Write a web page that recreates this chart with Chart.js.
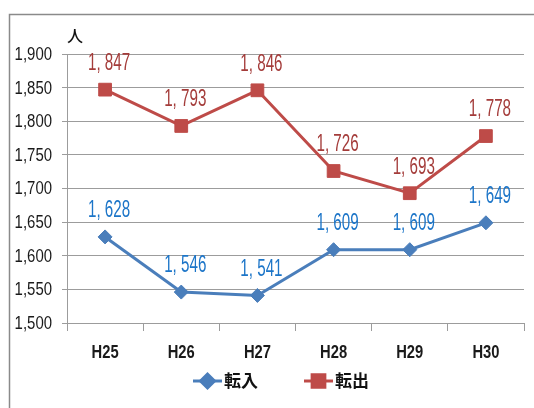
<!DOCTYPE html>
<html>
<head>
<meta charset="utf-8">
<script src="https://cdn.jsdelivr.net/npm/chart.js@4.4.1/dist/chart.umd.min.js"></script>
<style>
  html, body { margin: 0; padding: 0; background: #ffffff; }
  #wrap { width: 534px; height: 408px; position: relative; }
</style>
</head>
<body>
<div id="wrap"><canvas id="c" width="534" height="408"></canvas></div>
<script>
// Fiscal years (Heisei era)
const years = ['H25', 'H26', 'H27', 'H28', 'H29', 'H30'];
// Persons moving in / moving out
const tennyu = [1628, 1546, 1541, 1609, 1609, 1649];
const tenshutsu = [1847, 1793, 1846, 1726, 1693, 1778];
const seriesNames = ['転入', '転出'];
// Value axis range
const yMin = 1500;
const yMax = 1900;
const yStep = 50;
const unitLabel = '人';

const BLUE = '#4a7ebb';
const RED = '#be4b48';
const BLUE_TEXT = '#1c75c8';
const RED_TEXT = '#a43c3a';
const GRID = '#9c9c9c';
const SANS = "'Liberation Sans', Arial, sans-serif";

const fmt = v => v.toLocaleString('en-US');

// Draw text horizontally condensed around (x, y)
function narrowText(ctx, text, x, y, font, squeeze, align, color) {
  ctx.save();
  ctx.translate(x, y);
  ctx.scale(squeeze, 1);
  ctx.font = font;
  ctx.fillStyle = color;
  ctx.textAlign = align;
  ctx.textBaseline = 'middle';
  ctx.fillText(text, 0, 0);
  ctx.restore();
}

// White page with a grey frame running off the right and bottom edges
const framePlugin = {
  id: 'frame',
  beforeDraw(chart) {
    const ctx = chart.ctx;
    ctx.save();
    ctx.fillStyle = '#ffffff';
    ctx.fillRect(0, 0, chart.width, chart.height);
    ctx.strokeStyle = '#8a8a8a';
    ctx.lineWidth = 1.5;
    ctx.strokeRect(9.5, 14.5, chart.width + 20, chart.height + 20);
    ctx.restore();
  }
};

// Narrow tick labels for both axes, placed from the scales' own ticks
const tickLabelPlugin = {
  id: 'narrowTicks',
  afterDraw(chart) {
    const ctx = chart.ctx;
    const xs = chart.scales.x;
    const ys = chart.scales.y;
    ys.ticks.forEach((t, i) => {
      const py = ys.getPixelForTick(i);
      narrowText(ctx, fmt(t.value), ys.right - 15, py + 1, '18px ' + SANS, 0.83, 'right', '#1a1a1a');
    });
    xs.ticks.forEach((t, i) => {
      const px = xs.getPixelForTick(i);
      narrowText(ctx, chart.data.labels[i], px, xs.top + 30, 'bold 18px ' + SANS, 0.82, 'center', '#1a1a1a');
    });
  }
};

// Unit caption above the value axis
const unitPlugin = {
  id: 'unit',
  afterDraw(chart) {
    const ctx = chart.ctx;
    const a = chart.chartArea;
    ctx.save();
    ctx.fillStyle = '#111111';
    ctx.font = "500 16px 'Noto Sans CJK JP', sans-serif";
    ctx.textAlign = 'center';
    ctx.textBaseline = 'middle';
    ctx.fillText(unitLabel, a.left + 8, a.top - 18);
    ctx.restore();
  }
};

// Condensed value labels above each point
const valueLabelPlugin = {
  id: 'valueLabels',
  afterDatasetsDraw(chart) {
    const ctx = chart.ctx;
    chart.data.datasets.forEach((ds, i) => {
      const meta = chart.getDatasetMeta(i);
      meta.data.forEach((pt, j) => {
        const text = fmt(ds.data[j]).replace(',', ', ');
        narrowText(ctx, text, pt.x + 4, pt.y - 26, '23px ' + SANS, 0.66, 'center', ds.labelColor);
      });
    });
  }
};

// Legend below the category axis: line sample with marker, then name
const legendPlugin = {
  id: 'bottomLegend',
  afterDraw(chart) {
    const ctx = chart.ctx;
    const y = 381;
    const starts = [193, 304];
    chart.data.datasets.forEach((ds, i) => {
      const x0 = starts[i];
      ctx.save();
      ctx.strokeStyle = ds.borderColor;
      ctx.lineWidth = 3;
      ctx.beginPath();
      ctx.moveTo(x0, y);
      ctx.lineTo(x0 + 29, y);
      ctx.stroke();
      Chart.helpers.drawPoint(ctx, {
        pointStyle: ds.pointStyle,
        radius: ds.pointRadius,
        borderWidth: 1
      }, x0 + 14.5, y);
      ctx.fillStyle = ds.borderColor;
      ctx.fill();
      ctx.fillStyle = '#111111';
      ctx.font = "bold 17px 'Noto Sans CJK JP', sans-serif";
      ctx.textAlign = 'left';
      ctx.textBaseline = 'middle';
      ctx.fillText(ds.label, x0 + 31, y);
      ctx.restore();
    });
  }
};

new Chart(document.getElementById('c'), {
  type: 'line',
  data: {
    labels: years,
    datasets: [
      {
        label: seriesNames[0],
        data: tennyu,
        borderColor: BLUE,
        backgroundColor: BLUE,
        borderWidth: 3,
        pointStyle: 'rectRot',
        pointRadius: 7,
        pointHoverRadius: 7,
        pointBorderWidth: 1,
        tension: 0,
        labelColor: BLUE_TEXT
      },
      {
        label: seriesNames[1],
        data: tenshutsu,
        borderColor: RED,
        backgroundColor: RED,
        borderWidth: 3,
        pointStyle: 'rect',
        pointRadius: 9,
        pointHoverRadius: 9,
        pointBorderWidth: 1,
        tension: 0,
        labelColor: RED_TEXT
      }
    ]
  },
  options: {
    responsive: false,
    animation: false,
    events: [],
    layout: { padding: { top: 54, right: 5, bottom: 40, left: 0 } },
    plugins: {
      legend: { display: false },
      tooltip: { enabled: false },
      title: { display: false }
    },
    scales: {
      x: {
        type: 'category',
        offset: true,
        grid: {
          offset: true,
          drawOnChartArea: false,
          drawTicks: true,
          tickLength: 8,
          color: GRID
        },
        border: { display: true, color: GRID, width: 1 },
        ticks: { display: false },
        afterFit(scale) { scale.height = 45; }
      },
      y: {
        min: yMin,
        max: yMax,
        grid: {
          color: GRID,
          drawTicks: true,
          tickLength: 5
        },
        border: { display: true, color: GRID, width: 1 },
        ticks: { display: false, stepSize: yStep },
        afterFit(scale) { scale.width = 67; }
      }
    }
  },
  plugins: [framePlugin, tickLabelPlugin, unitPlugin, valueLabelPlugin, legendPlugin]
});
</script>
</body>
</html>
